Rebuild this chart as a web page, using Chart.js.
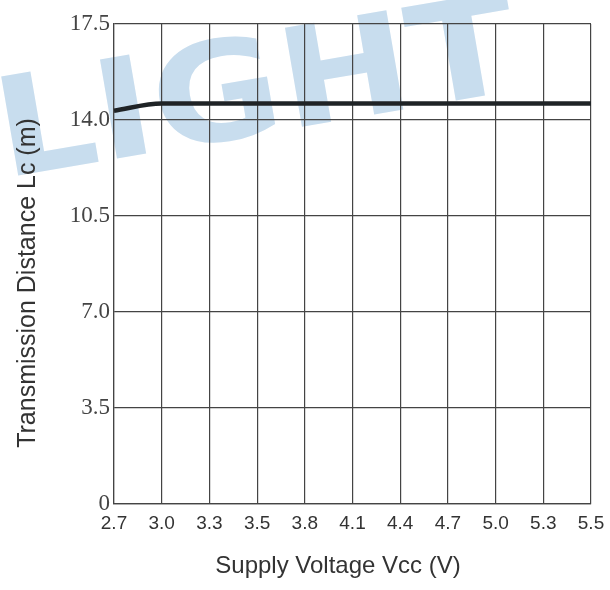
<!DOCTYPE html>
<html>
<head>
<meta charset="utf-8">
<script src="https://cdn.jsdelivr.net/npm/chart.js@4"></script>
<style>
	html, body { margin: 0; padding: 0; background: #fff; }
	#wrap { width: 610px; height: 590px; }
</style>
</head>
<body>
<div id="wrap"><canvas id="chart" width="610" height="590"></canvas></div>
<script>
const voltages = ['2.7', '3.0', '3.3', '3.5', '3.8', '4.1', '4.4', '4.7', '5.0', '5.3', '5.5'];
const distances = [14.34, 14.6, 14.6, 14.6, 14.6, 14.6, 14.6, 14.6, 14.6, 14.6, 14.6];
const yTicks = [0, 3.5, 7.0, 10.5, 14.0, 17.5];

// faint logo behind the grid, and the two axis titles
const decor = {
	id: 'decor',
	beforeDraw(chart) {
		const ctx = chart.ctx;
		ctx.save();
		ctx.fillStyle = '#c8ddee';
		ctx.font = 'bold 138px "DejaVu Sans"';
		ctx.translate(4, 178);
		ctx.rotate(-0.17);
		ctx.scale(1.14, 1);
		ctx.textBaseline = 'alphabetic';
		ctx.fillText('LIGHT', 0, 0);
		ctx.restore();
	},
	afterDraw(chart) {
		const ctx = chart.ctx;
		ctx.save();
		ctx.fillStyle = '#333';
		ctx.textAlign = 'center';
		ctx.textBaseline = 'middle';
		ctx.font = '24px "Liberation Sans"';
		ctx.fillText('Supply Voltage Vcc (V)', 338, 566);
		ctx.font = '25px "Liberation Sans"';
		ctx.translate(28, 283);
		ctx.rotate(-Math.PI / 2);
		ctx.fillText('Transmission Distance Lc (m)', 0, 0);
		ctx.restore();
	}
};

new Chart(document.getElementById('chart'), {
	type: 'line',
	data: {
		labels: voltages,
		datasets: [{
			data: distances,
			borderColor: '#1f2326',
			borderWidth: 4.5,
			pointRadius: 0,
			cubicInterpolationMode: 'monotone',
			fill: false
		}]
	},
	options: {
		responsive: false,
		animation: false,
		layout: { padding: { top: 24, right: 19, left: 0, bottom: 0 } },
		plugins: { legend: { display: false }, tooltip: { enabled: false } },
		scales: {
			x: {
				offset: false,
				grid: { color: '#444', lineWidth: 1.2, drawTicks: false },
				border: { color: '#444', width: 1.2 },
				ticks: {
					color: '#333',
					font: { family: 'Liberation Sans', size: 19 },
					padding: 8,
					maxRotation: 0,
					autoSkip: false
				},
				afterFit(axis) {
					axis.height = 86;
					axis.paddingLeft = 0;
					axis.paddingRight = 0;
				}
			},
			y: {
				min: 0,
				max: 17.5,
				afterBuildTicks(axis) { axis.ticks = yTicks.map(v => ({ value: v })); },
				grid: { color: '#444', lineWidth: 1.2, drawTicks: false },
				border: { color: '#444', width: 1.2 },
				ticks: {
					color: '#444',
					font: { family: 'Liberation Serif', size: 23 },
					padding: 4,
					callback: v => (v === 0 ? '0' : v.toFixed(1))
				},
				afterFit(axis) { axis.width = 114; }
			}
		}
	},
	plugins: [decor]
});
</script>
</body>
</html>
